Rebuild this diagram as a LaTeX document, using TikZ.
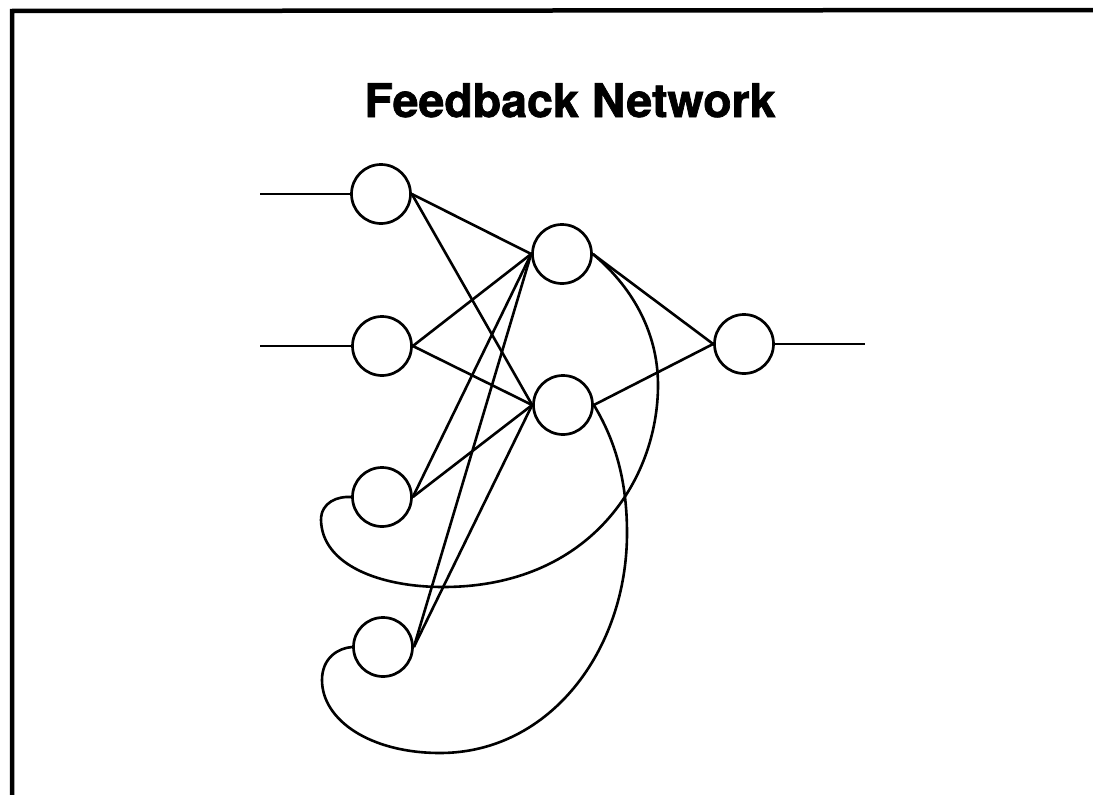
\documentclass[tikz,border=0pt]{standalone}
\usepackage{fontspec}
\setmainfont{TeX Gyre Heros}
\newfontfamily\titlefont{TeX Gyre Heros}[BoldFeatures={FakeBold=1.5}]
\begin{document}
\begin{tikzpicture}[x=1pt,y=-1pt,
  neuron/.style={circle,draw,line width=2.7pt,minimum size=59pt,inner sep=0pt},
  wire/.style={line width=2.6pt},
  frameline/.style={line width=4.5pt}]
\useasboundingbox (0,0) rectangle (1093,795);
% open frame: left and top edges
\draw[frameline] (12,795) -- (12,11) -- (1093,10);
% title
\node[anchor=base,font=\titlefont\fontsize{46.5}{50}\selectfont\bfseries] (title) at (570,117) {Feedback Network};
% units
\node[neuron] (I1) at (381,194) {};
\node[neuron] (I2) at (382,346) {};
\node[neuron] (F1) at (382,497) {};
\node[neuron] (F2) at (383,647) {};
\node[neuron] (H1) at (562,254) {};
\node[neuron] (H2) at (563,405) {};
\node[neuron] (O)  at (744,344) {};
% external inputs and output
\coordinate (in1) at (260,194);
\coordinate (in2) at (260,346);
\coordinate (out) at (865,344);
\draw[wire] (in1) -- (I1.west);
\draw[wire] (in2) -- (I2.west);
\draw[wire] (O.east) -- (out);
% feed-forward connections
\foreach \s in {I1,I2,F1,F2}{
  \draw[wire] (\s.east) -- (H1.west);
  \draw[wire] (\s.east) -- (H2.west);
}
\draw[wire] (H1.east) -- (O.west);
\draw[wire] (H2.east) -- (O.west);
% feedback loops back to the context units
\draw[wire] (H1.east) .. controls (630,285) and (658,330) .. (658,385)
  .. controls (658,480) and (590,587) .. (443,587)
  .. controls (380,587) and (322,565) .. (321,520)
  .. controls (321,502) and (338,496) .. (F1.west);
\draw[wire] (H2.east) .. controls (615,440) and (627,480) .. (627,533)
  .. controls (627,650) and (550,753) .. (440,753)
  .. controls (370,753) and (322,720) .. (322,680)
  .. controls (322,658) and (338,648) .. (F2.west);
\end{tikzpicture}
\end{document}
